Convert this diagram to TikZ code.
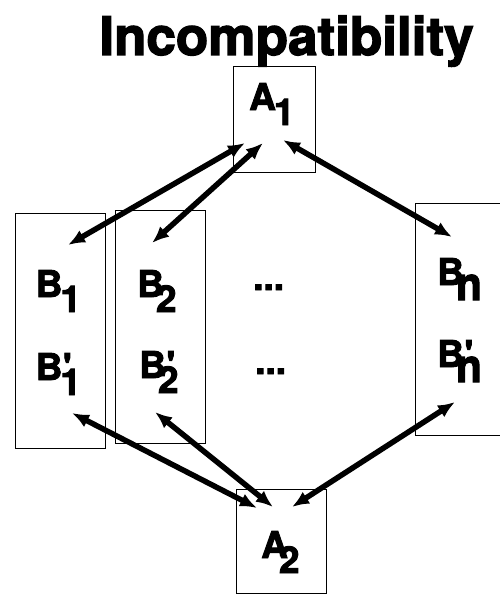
\documentclass[tikz,border=0pt]{standalone}
\usepackage{fontspec}
\setmainfont{TeX Gyre Heros}
\newfontfamily\heavyfont{TeX Gyre Heros Bold}[FakeBold=2.5]
\usetikzlibrary{arrows,arrows.meta}
\tikzset{>=latex}
\tikzstyle{frame box}=[draw,line width=1pt,inner sep=0pt,minimum width=90pt]
\tikzstyle{lab}=[inner sep=0pt,anchor=base west,font=\fontsize{37}{37}\selectfont\heavyfont]
\tikzstyle{link}=[{Latex[length=17pt,width=14pt]}-{Latex[length=17pt,width=14pt]},line width=5.5pt]
% letter with a lowered index, and with a prime over it
\newcommand{\idx}[3][-2pt]{#2\kern#1\raisebox{-15pt}{#3}}
\newcommand{\idxp}[3][-2pt]{#2\rlap{\kern0.5pt\textquotesingle}\kern#1\raisebox{-15pt}{#3}}

\begin{document}
\begin{tikzpicture}[x=1pt,y=-1pt]
  \useasboundingbox (0,0) rectangle (499,594);

  \node[inner sep=0pt,anchor=base,font=\fontsize{53}{53}\selectfont\heavyfont] (title) at (286.5,55) {Incompatibility};

  \node[frame box,minimum width=82pt,minimum height=105pt] (A1box) at (274,119.5) {};
  \node[frame box,minimum height=235pt] (B1box) at (60,330.5) {};
  \node[frame box,minimum height=233pt] (B2box) at (160,326.5) {};
  \node[frame box,minimum height=232pt] (Bnbox) at (460,319) {};
  \node[frame box,minimum height=104pt] (A2box) at (281,541) {};

  \node[lab] (a1) at (249,110) {\idx{A}{1}};
  \node[lab] (a2) at (261,558) {\idx[-9pt]{A}{2}};
  \node[lab] (b1) at (35.5,297) {\idx{B}{1}};
  \node[lab] (b1p) at (35.5,380) {\idxp{B}{1}};
  \node[lab] (b2) at (137,297) {\idx[-8pt]{B}{2}};
  \node[lab] (b2p) at (139,378) {\idxp[-8pt]{B}{2}};
  \node[lab] (bn) at (437,285) {\idx[-8pt]{B}{\scalebox{1.15}[1.25]{n}}};
  \node[lab] (bnp) at (437,367) {\idxp[-8pt]{B}{\scalebox{1.15}[1.25]{n}}};
  \node[lab] (dots1) at (253,290) {...};
  \node[lab] (dots2) at (255,374) {...};

  \draw[link] ([shift={(-29,23.5)}]A1box.center) -- ([shift={(8,-85.5)}]B1box.center);
  \draw[link] ([shift={(-11,23.5)}]A1box.center) -- ([shift={(-8,-83.5)}]B2box.center);
  \draw[link] ([shift={(9,20.5)}]A1box.center) -- ([shift={(-8,-82)}]Bnbox.center);

  \draw[link] ([shift={(-24,-33)}]A2box.center) -- ([shift={(12,82.5)}]B1box.center);
  \draw[link] ([shift={(-8,-34)}]A2box.center) -- ([shift={(-5,85.5)}]B2box.center);
  \draw[link] ([shift={(11,-34)}]A2box.center) -- ([shift={(-5,83)}]Bnbox.center);
\end{tikzpicture}
\end{document}
